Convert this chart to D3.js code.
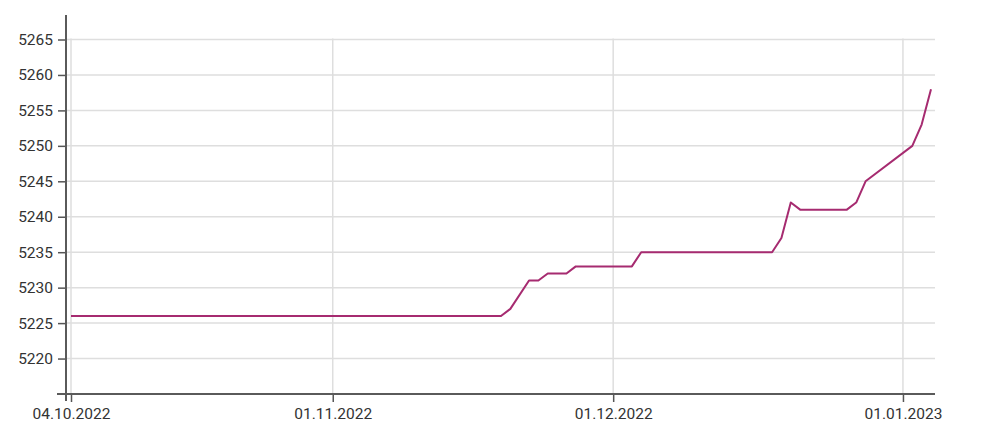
<!DOCTYPE html>
<html>
<head>
<meta charset="utf-8">
<script src="https://cdn.jsdelivr.net/npm/d3@7"></script>
<style>
  html, body { margin: 0; padding: 0; background: #fff; }
  svg { display: block; font-family: Roboto, "Noto Sans", sans-serif; }
</style>
</head>
<body>
<svg id="chart" width="1000" height="436"></svg>
<script>
// ---- Data ----
const dates = ["2022-10-04","2022-11-19","2022-11-20","2022-11-22","2022-11-23","2022-11-24","2022-11-26","2022-11-27","2022-12-03","2022-12-04","2022-12-18","2022-12-19","2022-12-20","2022-12-21","2022-12-26","2022-12-27","2022-12-28","2023-01-02","2023-01-03","2023-01-04"];
const values = [5226,5226,5227,5231,5231,5232,5232,5233,5233,5235,5235,5237,5242,5241,5241,5242,5245,5250,5253,5258];
const xTickDates = ["2022-10-04","2022-11-01","2022-12-01","2023-01-01"];
const yTicks = [5220,5225,5230,5235,5240,5245,5250,5255,5260,5265];
const xDomain = ["2022-10-04","2023-01-04"];
const yDomain = [5215,5265];

// ---- Layout ----
const parse = d3.utcParse("%Y-%m-%d");
const fmt = d3.utcFormat("%d.%m.%Y");
const svg = d3.select("#chart");

const x = d3.scaleUtc().domain(xDomain.map(parse)).range([71, 931]);
const y = d3.scaleLinear().domain(yDomain).range([394, 39.5]);

const data = dates.map((d, i) => ({ date: parse(d), value: values[i] }));

// gridlines
const grid = svg.append("g");
grid.selectAll("line.h").data(yTicks).join("line")
  .attr("x1", 66).attr("x2", 935)
  .attr("y1", d => y(d)).attr("y2", d => y(d))
  .attr("stroke", "#dedede").attr("stroke-width", 1.5);
grid.selectAll("line.v").data(xTickDates.map(parse)).join("line")
  .attr("x1", d => x(d)).attr("x2", d => x(d))
  .attr("y1", y(5265) - 1).attr("y2", 394)
  .attr("stroke", "#dedede").attr("stroke-width", 1.5);

// y axis
const yAxis = svg.append("g").attr("transform", "translate(66,0)")
  .call(d3.axisLeft(y).tickValues(yTicks).tickSize(8).tickPadding(5).tickFormat(d3.format("d")));
yAxis.select(".domain").remove();
yAxis.selectAll(".tick line").attr("stroke", "#555").attr("stroke-width", 1.5);
yAxis.selectAll(".tick text").attr("fill", "#333").style("font-size", "15.5px").style("font-family", "Roboto, sans-serif");

// x axis
const xAxis = svg.append("g").attr("transform", "translate(0,394)")
  .call(d3.axisBottom(x).tickValues(xTickDates.map(parse)).tickSize(8).tickPadding(6).tickFormat(fmt));
xAxis.select(".domain").remove();
xAxis.selectAll(".tick line").attr("stroke", "#555").attr("stroke-width", 1.5);
xAxis.selectAll(".tick text").attr("fill", "#333").style("font-size", "15.5px").style("font-family", "Roboto, sans-serif");

// axis lines
svg.append("line").attr("x1", 66).attr("x2", 66).attr("y1", 15).attr("y2", 401)
  .attr("stroke", "#5a5a5a").attr("stroke-width", 2);
svg.append("line").attr("x1", 57).attr("x2", 935).attr("y1", 394).attr("y2", 394)
  .attr("stroke", "#5a5a5a").attr("stroke-width", 2);

// series line
svg.append("path").datum(data)
  .attr("fill", "none").attr("stroke", "#a62b70").attr("stroke-width", 2)
  .attr("stroke-linejoin", "round")
  .attr("d", d3.line().x(d => x(d.date)).y(d => y(d.value)));
</script>
</body>
</html>
